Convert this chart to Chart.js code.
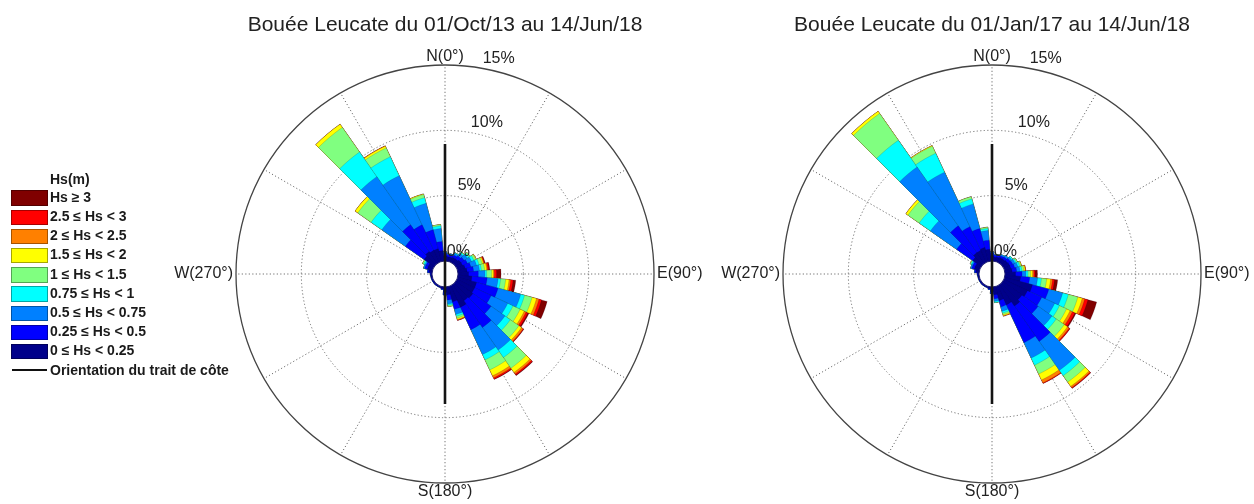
<!DOCTYPE html>
<html>
<head>
<meta charset="utf-8">
<script src="https://cdn.jsdelivr.net/npm/chart.js@4/dist/chart.umd.min.js"></script>
<style>
    body { margin: 0; background: #fff; width: 1254px; height: 504px; overflow: hidden; position: relative; font-family: "Liberation Sans", Arial, sans-serif; }
    .box { position: absolute; top: 0; height: 504px; }
    #box1 { left: 0; width: 720px; }
    #box2 { left: 720px; width: 534px; }
    #legend { position: absolute; left: 0; top: 0; color: #1a1a1a; font-weight: bold; font-size: 14px; }
    #legend div { position: absolute; white-space: nowrap; height: 19px; line-height: 19px; }
    #legend .swatch { position: absolute; left: 11px; top: 2.5px; width: 35px; height: 13.5px; border: 0.5px solid rgba(0,0,0,0.35); }
    #legend .coast { position: absolute; left: 12px; top: 8px; width: 35px; height: 2.5px; background: #111; }
    #legend .txt { left: 50px; }
</style>
</head>
<body>
<div class="box" id="box1"><canvas id="rose1"></canvas></div>
<div class="box" id="box2"><canvas id="rose2"></canvas></div>
<div id="legend"></div>
<script>

// directions, 10 degree bins
const directions = ['0','10','20','30','40','50','60','70','80','90','100','110',
    '120','130','140','150','160','170','180','190','200','210','220','230',
    '240','250','260','270','280','290','300','310','320','330','340','350']

const classLabels = ['0 ≤ Hs < 0.25', '0.25 ≤ Hs < 0.5', '0.5 ≤ Hs < 0.75', '0.75 ≤ Hs < 1',
    '1 ≤ Hs < 1.5', '1.5 ≤ Hs < 2', '2 ≤ Hs < 2.5', '2.5 ≤ Hs < 3', 'Hs ≥ 3']
const classColors = ['#00008a', '#0000ff', '#0080ff', '#00ffff', '#80ff80', '#ffff00', '#ff8000', '#ff0000', '#800000']

const ringTicks = [0, 5, 10, 15]
const cardinals = ['N(0°)', 'E(90°)', 'S(180°)', 'W(270°)']
const coastHalfLength = 8.95

// Bouée Leucate 01/Oct/13 - 14/Jun/18 (% of time)
const roseA_hs0 = [0.4, 0.35, 0.35, 0.4, 0.4, 0.5, 0.5, 0.6, 0.7, 0.8, 1.07, 1.5,
    1.5, 1.6, 1.5, 1.8, 1.2, 0.6, 0.4, 0.15, 0.08, 0.08, 0.08, 0.08,
    0.08, 0.08, 0.08, 0.1, 0.25, 0.4, 0.4, 0.95, 1.1, 1.0, 1.0, 0.8]
const roseA_hs1 = [0.2, 0.15, 0.15, 0.2, 0.3, 0.3, 0.4, 0.45, 0.5, 0.75, 1.17, 1.7,
    1.4, 1.7, 2.5, 1.9, 0.6, 0.4, 0.2, 0.05, 0.02, 0.02, 0.02, 0.02,
    0.02, 0.02, 0.02, 0.03, 0.1, 0.2, 0.2, 1.75, 2.5, 2.15, 1.5, 0.7]
const roseA_hs2 = [0.1, 0.05, 0.1, 0.15, 0.25, 0.3, 0.35, 0.45, 0.45, 0.51, 0.84, 1.8,
    1.4, 1.3, 2.1, 2.1, 0.4, 0.3, 0, 0, 0, 0, 0, 0,
    0, 0, 0, 0, 0, 0.1, 0.1, 2.2, 4.5, 4.15, 2.1, 1.0]
const roseA_hs3 = [0, 0, 0, 0.05, 0.1, 0.15, 0.2, 0.2, 0.15, 0.13, 0.19, 0.3,
    0.45, 0.5, 0.7, 0.45, 0.15, 0.1, 0, 0, 0, 0, 0, 0,
    0, 0, 0, 0, 0, 0, 0.1, 1.0, 2.3, 1.6, 0.45, 0.2]
const roseA_hs4 = [0, 0, 0, 0, 0.05, 0.1, 0.15, 0.25, 0.25, 0.38, 0.39, 0.6,
    0.6, 0.8, 1.0, 0.85, 0.15, 0.1, 0, 0, 0, 0, 0, 0,
    0, 0, 0, 0, 0, 0, 0.1, 1.25, 2.3, 0.75, 0.25, 0.1]
const roseA_hs5 = [0, 0, 0, 0, 0, 0, 0.05, 0.1, 0.15, 0.13, 0.26, 0.35,
    0.35, 0.25, 0.4, 0.5, 0.1, 0, 0, 0, 0, 0, 0, 0,
    0, 0, 0, 0, 0, 0, 0, 0.25, 0.3, 0.15, 0.05, 0]
const roseA_hs6 = [0, 0, 0, 0, 0, 0, 0, 0.05, 0.08, 0.08, 0.13, 0.2,
    0.15, 0.15, 0.15, 0.18, 0.05, 0, 0, 0, 0, 0, 0, 0,
    0, 0, 0, 0, 0, 0, 0, 0, 0, 0.03, 0, 0]
const roseA_hs7 = [0, 0, 0, 0, 0, 0, 0, 0.05, 0.1, 0.17, 0.18, 0.2,
    0.15, 0.05, 0.1, 0.1, 0.03, 0, 0, 0, 0, 0, 0, 0,
    0, 0, 0, 0, 0, 0, 0, 0, 0, 0, 0, 0]
const roseA_hs8 = [0, 0, 0, 0, 0, 0, 0, 0.05, 0.07, 0.34, 0.21, 0.45,
    0.1, 0.03, 0.05, 0.04, 0, 0, 0, 0, 0, 0, 0, 0,
    0, 0, 0, 0, 0, 0, 0, 0, 0, 0, 0, 0]

// Bouée Leucate 01/Jan/17 - 14/Jun/18 (% of time)
const roseB_hs0 = [0.4, 0.3, 0.35, 0.4, 0.4, 0.45, 0.5, 0.5, 0.55, 0.8, 1.2, 2.2,
    2.0, 1.8, 2.0, 1.6, 1.1, 0.6, 0.35, 0.15, 0.08, 0.08, 0.08, 0.08,
    0.08, 0.08, 0.08, 0.1, 0.25, 0.4, 0.4, 0.8, 1.0, 1.0, 1.1, 0.9]
const roseB_hs1 = [0.2, 0.15, 0.15, 0.15, 0.2, 0.25, 0.25, 0.3, 0.35, 0.5, 0.7, 1.3,
    1.2, 1.5, 3.3, 3.2, 0.5, 0.3, 0.15, 0.05, 0.02, 0.02, 0.02, 0.02,
    0.02, 0.02, 0.02, 0.03, 0.1, 0.2, 0.2, 1.5, 2.5, 2.0, 1.5, 0.7]
const roseB_hs2 = [0.1, 0.05, 0.05, 0.1, 0.15, 0.15, 0.2, 0.25, 0.25, 0.3, 0.6, 1.1,
    1.1, 1.3, 2.7, 1.3, 0.35, 0.2, 0, 0, 0, 0, 0, 0,
    0, 0, 0, 0, 0, 0.1, 0.1, 2.45, 5.5, 4.6, 1.95, 0.75]
const roseB_hs3 = [0, 0, 0, 0, 0, 0.1, 0.1, 0.15, 0.15, 0.15, 0.3, 0.45,
    0.4, 0.4, 0.5, 0.6, 0.15, 0.1, 0, 0, 0, 0, 0, 0,
    0, 0, 0, 0, 0, 0, 0.08, 1.05, 2.5, 1.6, 0.4, 0.15]
const roseB_hs4 = [0, 0, 0, 0, 0, 0, 0.1, 0.1, 0.15, 0.2, 0.4, 0.75,
    0.6, 0.75, 0.6, 0.75, 0.12, 0, 0, 0, 0, 0, 0, 0,
    0, 0, 0, 0, 0, 0, 0.07, 1.05, 2.5, 0.6, 0.18, 0.1]
const roseB_hs5 = [0, 0, 0, 0, 0, 0, 0, 0.05, 0.1, 0.15, 0.3, 0.35,
    0.3, 0.3, 0.4, 0.5, 0.08, 0, 0, 0, 0, 0, 0, 0,
    0, 0, 0, 0, 0, 0, 0, 0.2, 0.2, 0.05, 0, 0]
const roseB_hs6 = [0, 0, 0, 0, 0, 0, 0, 0, 0.05, 0.1, 0.15, 0.2,
    0.2, 0.15, 0.12, 0.25, 0.05, 0, 0, 0, 0, 0, 0, 0,
    0, 0, 0, 0, 0, 0, 0, 0, 0, 0, 0, 0]
const roseB_hs7 = [0, 0, 0, 0, 0, 0, 0, 0, 0, 0.1, 0.15, 0.25,
    0.2, 0.08, 0.06, 0.05, 0, 0, 0, 0, 0, 0, 0, 0,
    0, 0, 0, 0, 0, 0, 0, 0, 0, 0, 0, 0]
const roseB_hs8 = [0, 0, 0, 0, 0, 0, 0, 0, 0, 0.18, 0.25, 0.7,
    0.1, 0.02, 0.02, 0, 0, 0, 0, 0, 0, 0, 0, 0,
    0, 0, 0, 0, 0, 0, 0, 0, 0, 0, 0, 0]

const roseA = [roseA_hs0, roseA_hs1, roseA_hs2, roseA_hs3, roseA_hs4, roseA_hs5, roseA_hs6, roseA_hs7, roseA_hs8]
const roseB = [roseB_hs0, roseB_hs1, roseB_hs2, roseB_hs3, roseB_hs4, roseB_hs5, roseB_hs6, roseB_hs7, roseB_hs8]

const FONT = '"Liberation Sans", Arial, sans-serif'
Chart.defaults.font.family = FONT

// stacked sectors: each class is drawn as the cumulative total, smaller ones on top
function stackedDatasets(classes){

    let running = directions.map(() => 0)

    return classes.map((values, k) => {
        running = running.map((s, i) => s + values[i])
        return {
            label: classLabels[k],
            data: running.slice(),
            backgroundColor: classColors[k],
            borderColor: 'rgba(0,0,40,0.3)',
            borderWidth: 0.5
        }
    })
}

function polar(scale, value, deg){
    const d = scale.getDistanceFromCenterForValue(value)
    const t = deg * Math.PI / 180
    return { x: scale.xCenter + d * Math.sin(t), y: scale.yCenter - d * Math.cos(t) }
}

const roseDecor = {
    id: 'roseDecor',
    beforeDatasetsDraw(chart){
        const s = chart.scales.r
        const ctx = chart.ctx
        ctx.save()
        ctx.strokeStyle = '#6e6e6e'
        ctx.lineWidth = 1
        ctx.setLineDash([1.2, 2.3])
        for (let a = 0; a < 360; a += 30) {
            const p0 = polar(s, 0, a)
            const p1 = polar(s, ringTicks[ringTicks.length - 1], a)
            ctx.beginPath()
            ctx.moveTo(p0.x, p0.y)
            ctx.lineTo(p1.x, p1.y)
            ctx.stroke()
        }
        ctx.restore()
    },
    afterDatasetsDraw(chart){
        const s = chart.scales.r
        const ctx = chart.ctx
        ctx.save()

        // empty centre
        ctx.beginPath()
        ctx.arc(s.xCenter, s.yCenter, s.getDistanceFromCenterForValue(0), 0, Math.PI * 2)
        ctx.fillStyle = '#fff'
        ctx.fill()
        ctx.strokeStyle = '#1c1c70'
        ctx.lineWidth = 1
        ctx.stroke()

        // coastline orientation
        const top = polar(s, coastHalfLength, 0)
        const bottom = polar(s, coastHalfLength, 180)
        ctx.beginPath()
        ctx.moveTo(top.x, top.y)
        ctx.lineTo(bottom.x, bottom.y)
        ctx.strokeStyle = '#141414'
        ctx.lineWidth = 2.6
        ctx.stroke()

        ctx.fillStyle = '#222'
        ctx.font = '16px ' + FONT
        ctx.textAlign = 'center'
        ctx.textBaseline = 'middle'

        // ring labels
        const labelAngles = [31, 15.4, 15.5, 14]
        ringTicks.forEach((v, i) => {
            const d = s.getDistanceFromCenterForValue(v) + 13
            const t = labelAngles[i] * Math.PI / 180
            ctx.fillText(v + '%', s.xCenter + d * Math.sin(t), s.yCenter - d * Math.cos(t))
        })

        // cardinal labels
        const R = s.getDistanceFromCenterForValue(ringTicks[ringTicks.length - 1])
        ctx.textBaseline = 'bottom'
        ctx.fillText(cardinals[0], s.xCenter, s.yCenter - R)
        ctx.textBaseline = 'top'
        ctx.fillText(cardinals[2], s.xCenter, s.yCenter + R + 1)
        ctx.textBaseline = 'middle'
        ctx.textAlign = 'left'
        ctx.fillText(cardinals[1], s.xCenter + R + 3, s.yCenter)
        ctx.textAlign = 'right'
        ctx.fillText(cardinals[3], s.xCenter - R - 3, s.yCenter)

        ctx.restore()
    }
}

function rose(element, title, classes, padLeft, padRight){

    new Chart(
        document.getElementById(element),
        {
            type: 'polarArea',
            data: {
                labels: directions,
                datasets: stackedDatasets(classes)
            },
            options: {
                responsive: true,
                maintainAspectRatio: false,
                animation: false,
                layout: {
                    padding: { left: padLeft, right: padRight, top: 0, bottom: 21 }
                },
                plugins: {
                    legend: { display: false },
                    tooltip: { enabled: false },
                    title: {
                        display: true,
                        text: title,
                        color: '#222',
                        font: { size: 21, weight: 'normal' },
                        padding: { top: 12.4, bottom: 27.4 }
                    }
                },
                scales: {
                    r: {
                        min: -1,
                        max: 15,
                        startAngle: -5,
                        afterBuildTicks: (scale) => {
                            scale.ticks = ringTicks.map(v => ({ value: v }))
                        },
                        ticks: { display: false },
                        angleLines: { display: false },
                        pointLabels: { display: false },
                        grid: {
                            circular: true,
                            color: (c) => c.tick.value === 0 ? 'rgba(0,0,0,0)' : (c.tick.value === 15 ? '#444' : '#6e6e6e'),
                            lineWidth: (c) => c.tick.value === 15 ? 1.3 : 1
                        },
                        border: {
                            dash: (c) => c.tick.value === 15 ? [] : [1.2, 2.3]
                        }
                    }
                }
            },
            plugins: [roseDecor]
        }
    )
}

rose('rose1', 'Bouée Leucate du 01/Oct/13 au 14/Jun/18', roseA, 236, 66)
rose('rose2', 'Bouée Leucate du 01/Jan/17 au 14/Jun/18', roseB, 63, 53)

// legend (highest class on top)
const legend = document.getElementById('legend')
const head = document.createElement('div')
head.textContent = 'Hs(m)'
head.style.left = '50px'
head.style.top = (179 - 9.5) + 'px'
legend.appendChild(head)

classLabels.slice().reverse().forEach((label, i) => {
    const k = classLabels.length - 1 - i
    const y = 197.3 + 19.2 * i - 9.5
    const sw = document.createElement('div')
    sw.className = 'swatch'
    sw.style.top = (y + 2.5) + 'px'
    sw.style.background = classColors[k]
    legend.appendChild(sw)
    const t = document.createElement('div')
    t.className = 'txt'
    t.style.top = y + 'px'
    t.textContent = label
    legend.appendChild(t)
})

const coastLine = document.createElement('div')
coastLine.className = 'coast'
coastLine.style.top = (370 - 1.3) + 'px'
legend.appendChild(coastLine)
const coastText = document.createElement('div')
coastText.className = 'txt'
coastText.style.top = (370 - 9.5) + 'px'
coastText.textContent = 'Orientation du trait de côte'
legend.appendChild(coastText)
</script>
</body>
</html>
